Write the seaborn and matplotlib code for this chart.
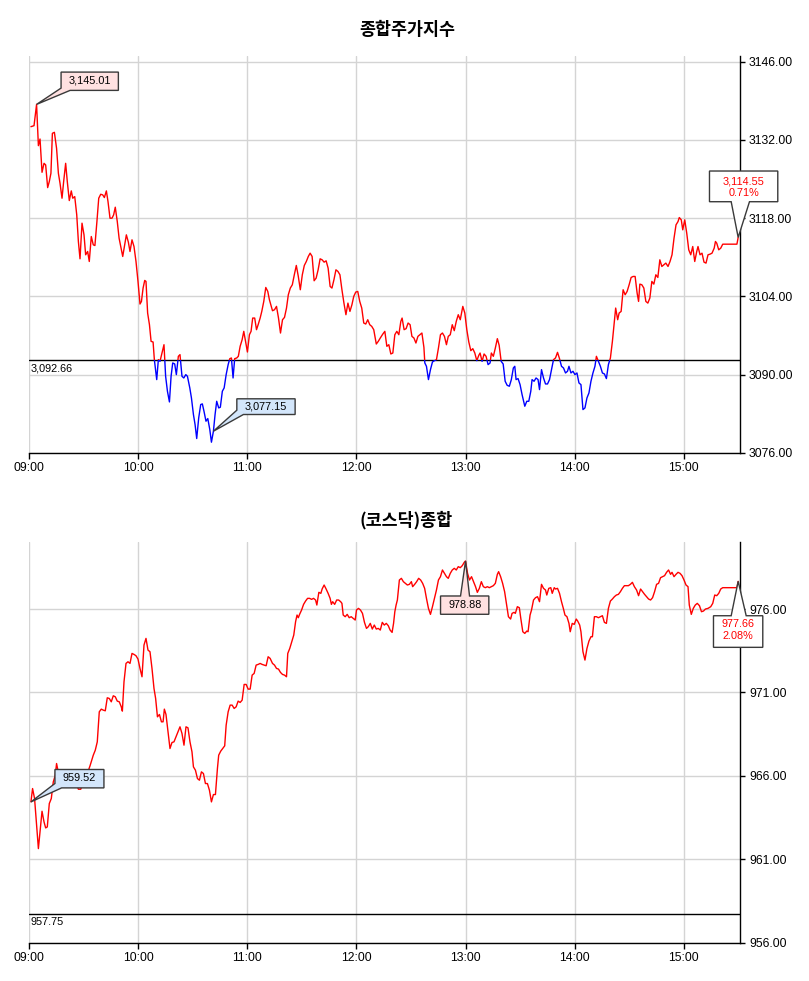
import numpy as np
import matplotlib
matplotlib.use("Agg")
import matplotlib.pyplot as plt
import matplotlib.transforms as mtransforms
from matplotlib.patches import Polygon, Rectangle
import seaborn as sns

# ---------------- data ----------------
KOSPI_TITLE = "종합주가지수"
KOSDAQ_TITLE = "(코스닥)종합"
TIME_LABELS = ["09:00", "10:00", "11:00", "12:00", "13:00", "14:00", "15:00"]
TIME_TICKS = [0, 60, 120, 180, 240, 300, 360]   # minutes after 09:00

kospi_min = [
    0.9, 2.6, 4.0, 5.0, 5.9, 7.0, 8.1, 9.0, 10.1, 11.0,
    11.9, 12.7, 13.8, 15.0, 16.0, 16.9, 18.0, 18.9, 20.0, 20.9,
    22.0, 23.1, 23.9, 25.0, 26.1, 27.0, 27.9, 29.0, 30.1, 31.0,
    32.1, 33.0, 34.1, 35.2, 36.1, 37.2, 38.2, 39.3, 40.4, 41.3,
    42.4, 43.3, 44.4, 45.5, 46.4, 47.3, 48.4, 49.4, 50.5, 51.4,
    52.5, 53.4, 54.5, 55.4, 56.5, 57.6, 58.7, 59.8, 60.9, 61.7,
    62.6, 63.5, 64.2, 65.1, 66.1, 67.0, 68.1, 68.8, 70.1, 71.0,
    71.9, 73.2, 74.1, 75.0, 76.0, 77.1, 78.0, 78.9, 80.0, 80.9,
    82.0, 82.9, 84.0, 85.0, 86.1, 87.0, 88.3, 89.2, 90.3, 91.2,
    92.1, 93.2, 94.3, 95.2, 96.1, 97.2, 98.2, 99.3, 100.2, 101.3,
    102.2, 103.1, 104.2, 105.1, 106.2, 107.2, 108.3, 109.4, 110.3, 111.2,
    112.1, 113.0, 114.1, 115.0, 116.0, 117.1, 118.0, 119.1, 120.0, 121.1,
    122.0, 122.9, 124.0, 125.0, 125.9, 127.0, 127.9, 129.0, 130.1, 131.2,
    132.1, 133.8, 134.9, 136.0, 137.1, 138.2, 139.3, 140.4, 141.5, 142.5,
    143.6, 144.7, 145.8, 146.9, 148.0, 149.1, 150.2, 151.3, 152.4, 153.5,
    154.5, 155.6, 156.7, 157.8, 158.9, 160.0, 161.1, 162.2, 163.3, 164.4,
    165.5, 166.5, 167.6, 168.7, 169.8, 170.9, 172.0, 173.1, 174.2, 175.3,
    176.4, 177.5, 178.5, 179.6, 180.7, 181.8, 182.9, 184.0, 185.1, 186.2,
    187.3, 188.4, 189.5, 190.9, 192.0, 193.1, 194.5, 195.6, 196.7, 197.8,
    198.9, 200.0, 201.1, 202.2, 203.3, 204.4, 205.1, 206.2, 207.3, 208.4,
    209.5, 210.5, 211.6, 212.7, 213.8, 214.9, 216.0, 217.1, 217.6, 218.5,
    219.6, 220.7, 221.8, 222.9, 224.0, 225.1, 226.2, 227.3, 228.4, 229.5,
    230.5, 231.6, 232.7, 233.8, 234.9, 236.0, 237.1, 238.5, 239.6, 240.7,
    241.8, 242.9, 244.0, 245.1, 246.2, 247.3, 248.0, 249.1, 250.2, 251.3,
    252.4, 253.5, 254.2, 255.3, 256.4, 257.5, 258.5, 259.6, 260.7, 261.8,
    262.9, 264.1, 265.2, 266.3, 267.1, 267.8, 268.9, 270.0, 271.1, 272.6,
    273.7, 274.8, 275.9, 276.6, 277.7, 278.8, 279.9, 280.7, 281.8, 282.9,
    284.0, 285.1, 286.2, 287.3, 288.4, 289.5, 290.6, 291.7, 292.8, 293.9,
    295.0, 296.1, 296.9, 298.0, 299.1, 300.2, 301.3, 302.4, 303.5, 304.6,
    305.7, 306.8, 307.9, 309.0, 310.1, 311.2, 312.0, 313.1, 314.2, 315.3,
    316.4, 317.5, 318.6, 319.7, 320.8, 321.9, 322.6, 323.7, 324.5, 325.6,
    326.7, 327.8, 328.9, 330.0, 331.1, 332.2, 333.3, 334.4, 335.2, 335.9,
    337.0, 338.1, 339.2, 340.3, 341.4, 342.5, 343.6, 344.7, 345.8, 346.9,
    348.0, 349.1, 350.2, 351.4, 352.5, 353.6, 354.7, 355.8, 356.9, 357.6,
    358.7, 359.5, 360.6, 361.7, 362.8, 363.9, 365.0, 366.1, 367.2, 367.9,
    369.0, 370.1, 371.2, 372.3, 373.4, 374.5, 375.6, 376.8, 377.5, 378.2,
    379.3, 380.4, 381.5, 389.3, 390.0,
]
kospi_val = [
    3134.38, 3134.56, 3138.37, 3130.98, 3132.17, 3126.21, 3127.82, 3127.53, 3123.47, 3124.55,
    3126.04, 3133.19, 3133.37, 3130.51, 3126.04, 3124.25, 3121.57, 3124.55, 3127.82, 3124.55,
    3121.15, 3122.88, 3121.57, 3121.86, 3118.59, 3113.82, 3110.72, 3117.10, 3115.01, 3111.44,
    3112.03, 3110.24, 3114.71, 3113.22, 3113.10, 3117.39, 3121.57, 3122.28, 3122.16, 3121.69,
    3122.88, 3120.97, 3117.99, 3117.99, 3118.59, 3119.96, 3117.39, 3114.41, 3112.63, 3111.14,
    3113.22, 3115.01, 3113.70, 3112.03, 3114.12, 3112.92, 3110.24, 3106.67, 3102.62, 3103.09,
    3105.48, 3106.85, 3106.67, 3101.01, 3098.92, 3095.94, 3095.82, 3092.66, 3089.09, 3092.66,
    3092.36, 3094.15, 3095.34, 3089.68, 3087.00, 3085.09, 3089.68, 3092.07, 3091.89, 3089.98,
    3093.26, 3093.56, 3089.68, 3089.38, 3089.98, 3089.68, 3087.60, 3085.81, 3082.83, 3081.04,
    3078.54, 3082.23, 3084.62, 3084.74, 3083.43, 3081.64, 3082.11, 3080.15, 3077.88, 3079.85,
    3082.83, 3085.21, 3084.02, 3084.14, 3087.00, 3087.60, 3089.98, 3091.77, 3092.84, 3092.96,
    3089.38, 3092.84, 3092.96, 3093.26, 3095.05, 3096.24, 3097.73, 3095.64, 3094.03, 3097.13,
    3097.73, 3100.11, 3100.11, 3098.03, 3098.92, 3100.11, 3101.30, 3103.09, 3105.59, 3104.88,
    3103.39, 3101.42, 3101.60, 3102.20, 3100.11, 3097.43, 3099.81, 3100.23, 3101.90, 3104.28,
    3105.48, 3106.07, 3107.86, 3109.53, 3107.56, 3105.18, 3107.86, 3109.53, 3110.24, 3111.14,
    3111.73, 3111.14, 3106.79, 3107.26, 3108.75, 3110.72, 3110.54, 3110.12, 3110.36, 3109.05,
    3105.77, 3105.48, 3106.97, 3108.75, 3108.46, 3107.86, 3105.18, 3102.79, 3100.71, 3102.79,
    3101.30, 3102.50, 3103.99, 3104.76, 3104.88, 3103.09, 3101.90, 3099.22, 3099.04, 3099.81,
    3098.92, 3098.62, 3098.03, 3095.46, 3095.94, 3096.54, 3097.25, 3097.73, 3095.05, 3095.34,
    3093.68, 3093.85, 3097.13, 3097.73, 3097.13, 3099.52, 3100.11, 3098.03, 3098.21, 3099.22,
    3098.92, 3096.83, 3096.54, 3095.64, 3096.83, 3097.13, 3097.43, 3094.87, 3092.07, 3091.47,
    3089.09, 3090.87, 3092.25, 3092.48, 3092.66, 3094.75, 3097.13, 3097.43, 3096.83, 3095.34,
    3096.83, 3097.13, 3098.92, 3097.85, 3099.52, 3100.71, 3099.81, 3102.20, 3101.01, 3098.03,
    3095.82, 3094.27, 3094.63, 3093.85, 3092.48, 3093.44, 3093.85, 3092.36, 3093.68, 3093.26,
    3091.77, 3092.07, 3093.85, 3093.26, 3094.75, 3096.42, 3095.23, 3092.36, 3091.89, 3088.79,
    3088.07, 3087.90, 3089.09, 3091.17, 3091.47, 3089.09, 3089.27, 3088.19, 3086.41, 3084.32,
    3085.21, 3085.21, 3087.00, 3089.09, 3088.79, 3089.38, 3089.09, 3087.30, 3090.87, 3089.38,
    3088.31, 3088.31, 3089.09, 3090.87, 3092.66, 3092.96, 3093.97, 3092.84, 3091.47, 3091.17,
    3090.28, 3090.58, 3091.47, 3090.28, 3090.58, 3089.98, 3090.28, 3088.49, 3088.19, 3083.72,
    3084.02, 3085.81, 3086.70, 3088.79, 3090.28, 3091.47, 3093.26, 3092.36, 3091.47, 3090.28,
    3090.10, 3089.27, 3091.77, 3092.96, 3095.94, 3099.52, 3101.90, 3099.81, 3101.01, 3101.30,
    3105.18, 3104.28, 3104.88, 3106.07, 3107.38, 3107.56, 3107.56, 3104.58, 3103.09, 3106.19,
    3106.07, 3105.48, 3103.09, 3102.79, 3103.69, 3106.67, 3106.19, 3107.86, 3107.38, 3110.54,
    3109.35, 3109.65, 3109.95, 3109.35, 3110.24, 3111.44, 3114.41, 3116.80, 3117.39, 3118.11,
    3117.69, 3115.91, 3117.69, 3115.31, 3112.33, 3111.44, 3112.92, 3110.24, 3112.03, 3112.92,
    3111.44, 3111.73, 3110.12, 3109.95, 3111.44, 3111.55, 3111.73, 3112.63, 3113.82, 3113.52,
    3112.33, 3112.63, 3113.34, 3113.34, 3114.55,
]
kospi_prev = 3092.66
kospi_yticks = [3076, 3090, 3104, 3118, 3132, 3146]
kospi_ylim = (3076, 3147.0)
kospi_high_text = "3,145.01"
kospi_low_text = "3,077.15"
kospi_low_minute = 101.3
kospi_close_text = "3,114.55"
kospi_change_text = "0.71%"
kospi_prev_text = "3,092.66"

kosdaq_min = [
    0.9, 1.8, 2.9, 4.0, 5.0, 5.9, 7.0, 8.1, 9.0, 9.9,
    11.0, 12.1, 13.2, 14.3, 15.0, 16.1, 17.8, 20.6, 23.3, 26.1,
    27.0, 28.3, 29.7, 31.6, 33.4, 35.2, 36.3, 37.4, 38.5, 39.6,
    40.7, 41.8, 42.9, 44.0, 45.1, 46.2, 47.3, 48.4, 49.5, 50.6,
    51.2, 52.1, 53.2, 54.3, 55.4, 56.5, 57.6, 58.7, 59.8, 60.9,
    62.0, 63.1, 64.2, 65.3, 66.4, 67.5, 68.6, 69.5, 70.5, 71.6,
    72.7, 73.6, 74.3, 75.2, 76.3, 77.4, 78.5, 79.6, 80.7, 81.8,
    82.9, 84.0, 85.1, 86.2, 87.3, 88.4, 89.5, 90.3, 91.4, 92.5,
    93.6, 94.7, 95.8, 96.9, 98.0, 99.1, 100.2, 101.3, 102.4, 103.5,
    104.2, 105.3, 106.4, 107.5, 108.3, 109.4, 110.5, 111.6, 112.7, 113.8,
    114.9, 116.0, 117.1, 118.2, 119.3, 120.4, 121.5, 122.6, 123.7, 124.8,
    125.9, 127.0, 128.1, 129.2, 130.3, 131.4, 132.5, 133.8, 134.9, 136.0,
    137.1, 138.2, 139.3, 140.4, 141.5, 142.2, 143.3, 144.4, 145.5, 146.5,
    147.3, 148.0, 148.7, 149.8, 150.9, 152.0, 153.1, 154.2, 155.3, 156.4,
    157.5, 158.2, 159.3, 160.4, 161.1, 162.2, 163.3, 164.4, 165.5, 166.2,
    166.9, 168.0, 169.1, 170.2, 171.3, 172.0, 172.7, 173.8, 174.9, 176.0,
    177.1, 178.2, 179.3, 180.0, 181.1, 182.2, 183.3, 184.4, 185.5, 186.5,
    187.6, 188.7, 189.8, 190.9, 192.0, 193.1, 194.2, 195.3, 196.4, 197.5,
    198.5, 199.6, 200.4, 201.1, 201.8, 202.5, 203.6, 204.7, 205.8, 206.9,
    208.0, 209.1, 210.2, 210.9, 212.0, 213.1, 214.2, 215.3, 216.4, 217.5,
    218.5, 219.6, 220.7, 221.8, 222.9, 224.0, 225.1, 226.2, 227.3, 228.4,
    229.5, 230.5, 231.6, 232.7, 233.8, 234.9, 236.0, 237.1, 238.2, 239.3,
    240.0, 241.1, 242.2, 243.3, 244.4, 245.5, 246.5, 247.6, 248.7, 249.8,
    250.9, 252.0, 253.1, 254.2, 255.3, 256.4, 257.5, 258.2, 259.3, 260.4,
    261.5, 262.5, 263.6, 264.8, 265.6, 266.7, 267.4, 268.5, 269.6, 270.4,
    271.5, 272.6, 273.7, 274.4, 275.5, 276.3, 277.4, 278.5, 279.6, 280.7,
    281.8, 282.9, 284.0, 284.7, 285.8, 286.9, 287.7, 288.8, 289.5, 290.6,
    291.7, 292.8, 293.9, 294.7, 295.8, 296.9, 297.6, 298.7, 299.8, 300.9,
    301.7, 302.8, 303.5, 304.6, 305.7, 306.8, 307.9, 309.0, 309.8, 310.9,
    312.0, 313.1, 314.2, 315.3, 316.4, 317.5, 318.6, 319.7, 320.8, 321.9,
    323.0, 324.1, 325.2, 326.3, 327.4, 328.5, 329.6, 330.7, 331.8, 332.9,
    334.1, 335.2, 336.3, 337.4, 338.5, 339.6, 340.7, 341.8, 342.9, 344.0,
    345.1, 346.2, 347.3, 348.4, 349.5, 350.6, 351.7, 352.8, 353.6, 354.7,
    355.8, 356.9, 358.0, 359.1, 360.2, 361.3, 362.4, 363.1, 364.2, 365.3,
    366.4, 367.5, 368.7, 369.8, 370.9, 372.0, 373.4, 374.9, 376.0, 377.1,
    378.2, 379.3, 380.4, 381.5, 389.3, 390.0,
]
kosdaq_val = [
    964.44, 965.24, 964.64, 963.04, 961.64, 962.64, 963.88, 963.24, 962.88, 962.94,
    964.34, 964.64, 965.64, 966.04, 966.74, 966.14, 965.94, 965.74, 965.54, 965.48,
    965.20, 965.20, 965.64, 966.04, 966.60, 967.24, 967.54, 968.04, 969.84, 970.00,
    969.94, 969.90, 970.68, 970.64, 970.44, 970.80, 970.74, 970.48, 970.44, 970.14,
    969.88, 971.64, 972.74, 972.84, 972.74, 973.34, 973.28, 973.20, 973.00, 972.44,
    971.94, 973.84, 974.24, 973.54, 973.44, 972.44, 971.24, 970.64, 969.54, 969.68,
    969.24, 969.24, 970.00, 969.68, 968.68, 967.64, 968.00, 968.04, 968.34, 968.64,
    968.94, 968.54, 967.84, 968.94, 968.88, 968.04, 967.44, 966.54, 966.34, 965.84,
    965.74, 966.24, 966.14, 965.54, 965.54, 965.14, 964.44, 964.88, 964.88, 966.44,
    967.24, 967.48, 967.64, 967.80, 969.04, 969.84, 970.24, 970.24, 970.04, 970.14,
    970.48, 970.40, 970.54, 971.48, 971.48, 971.20, 971.20, 972.04, 972.14, 972.64,
    972.68, 972.74, 972.68, 972.64, 972.60, 973.14, 973.04, 972.74, 972.64, 972.44,
    972.40, 972.20, 972.08, 972.04, 971.94, 973.34, 973.64, 974.04, 974.44, 975.24,
    975.64, 975.48, 975.68, 975.94, 976.28, 976.48, 976.64, 976.64, 976.58, 976.64,
    976.54, 976.24, 977.00, 976.94, 977.20, 977.44, 977.20, 976.94, 976.64, 976.28,
    976.44, 976.28, 976.54, 976.54, 976.44, 976.34, 975.64, 975.54, 975.68, 975.48,
    975.54, 975.44, 975.34, 975.94, 976.04, 975.94, 975.74, 975.20, 974.84, 974.94,
    975.14, 974.80, 975.04, 974.80, 974.84, 974.74, 975.20, 975.04, 975.14, 975.00,
    974.74, 974.60, 975.14, 975.84, 976.24, 976.54, 977.74, 977.84, 977.64, 977.54,
    977.44, 977.48, 977.64, 977.34, 977.48, 977.64, 977.84, 977.74, 977.54, 977.24,
    976.64, 976.04, 975.68, 976.14, 976.64, 977.14, 977.74, 977.94, 978.34, 978.14,
    977.94, 977.84, 978.14, 978.34, 978.44, 978.34, 978.54, 978.48, 978.60, 978.80,
    978.88, 978.14, 977.74, 977.94, 977.64, 977.34, 977.00, 977.24, 977.64, 977.34,
    977.28, 977.34, 977.28, 977.34, 977.40, 977.54, 978.08, 978.24, 977.94, 977.54,
    977.04, 976.34, 975.54, 975.40, 975.74, 975.80, 975.74, 976.14, 976.08, 975.44,
    974.64, 974.54, 974.68, 974.64, 975.64, 975.94, 976.54, 976.68, 976.74, 976.44,
    977.48, 977.24, 977.14, 976.84, 977.24, 977.28, 976.94, 977.28, 977.20, 977.24,
    976.94, 976.44, 976.00, 975.64, 975.54, 975.14, 974.64, 975.14, 975.08, 975.40,
    975.28, 975.04, 974.64, 973.44, 972.94, 973.64, 974.08, 974.34, 974.34, 975.54,
    975.54, 975.48, 975.54, 975.60, 975.20, 975.14, 976.04, 976.48, 976.60, 976.74,
    976.84, 976.88, 977.04, 977.24, 977.40, 977.40, 977.40, 977.48, 977.60, 977.34,
    977.14, 976.80, 977.20, 977.04, 976.88, 976.74, 976.60, 976.54, 976.68, 977.04,
    977.48, 977.54, 977.88, 977.94, 978.00, 978.20, 978.34, 978.08, 978.20, 977.94,
    978.08, 978.20, 978.14, 978.00, 977.74, 977.44, 977.34, 976.24, 975.68, 976.04,
    976.24, 976.34, 976.20, 975.84, 975.88, 976.00, 976.04, 976.14, 976.34, 976.84,
    976.80, 976.94, 977.20, 977.28, 977.28, 977.66,
]
kosdaq_prev = 957.75
kosdaq_yticks = [956, 961, 966, 971, 976]
kosdaq_ylim = (956, 980)
kosdaq_high_text = "978.88"
kosdaq_low_text = "959.52"
kosdaq_close_text = "977.66"
kosdaq_change_text = "2.08%"
kosdaq_prev_text = "957.75"

# ---------------- style ----------------
sns.set_style("white")
plt.rcParams['font.family'] = ['Liberation Sans', 'DejaVu Sans']
KR = ['Noto Sans CJK KR', 'DejaVu Sans']
UP = "#ff0000"
DOWN = "#0000ff"
PINK = "#ffe1e1"
BLUE = "#d3e6fb"
EDGE = "#3a3a3a"
XMAX = 391.0

W, H = 809, 981
fig = plt.figure(figsize=(W / 100, H / 100), dpi=100)


def axes_px(left, top, right, bottom):
    return fig.add_axes([left / W, 1 - bottom / H, (right - left) / W, (bottom - top) / H])


ax1 = axes_px(29.3, 56.2, 740, 452.7)
ax2 = axes_px(29.3, 542.3, 740, 942.7)


def style_axes(ax, yticks, ylim):
    ax.set_xlim(0, XMAX)
    ax.set_ylim(*ylim)
    ax.set_xticks(TIME_TICKS)
    ax.set_xticklabels(TIME_LABELS)
    ax.yaxis.tick_right()
    ax.set_yticks(yticks)
    ax.set_yticklabels([f"{v:.2f}" for v in yticks])
    ax.grid(True, color="#d4d4d4", lw=1.0)
    ax.set_axisbelow(True)
    for s in ("left", "top"):
        ax.spines[s].set_visible(False)
    for s in ("bottom", "right"):
        ax.spines[s].set_visible(True)
        ax.spines[s].set_color("black")
        ax.spines[s].set_linewidth(1.0)
    ax.tick_params(axis="x", direction="out", length=4.5, width=1, pad=2,
                   labelsize=8.8, colors="black", bottom=True)
    ax.tick_params(axis="y", direction="out", length=3.5, width=1, pad=3,
                   labelsize=8.8, colors="black", right=True, left=False)
    ax.set_xlabel("")
    ax.set_ylabel("")


def callout(ax, x, y, verts_px, texts, face):
    tr = fig.dpi_scale_trans + mtransforms.ScaledTranslation(x, y, ax.transData)
    verts = np.array(verts_px, dtype=float) / fig.dpi
    poly = Polygon(verts, closed=True, transform=tr, facecolor=face,
                   edgecolor=EDGE, lw=1.0, clip_on=False, zorder=6)
    ax.add_artist(poly)
    for dx, dy, s, col in texts:
        ax.annotate(s, xy=(x, y), xytext=(dx * 0.72, dy * 0.72),
                    textcoords="offset points", ha="center", va="center",
                    fontsize=7.8, color=col, zorder=7, annotation_clip=False)


def prev_line(ax, level, text):
    ax.axhline(level, color="black", lw=1.0, zorder=3)
    ax.annotate(text, xy=(0, level), xytext=(0.8, -2.5), textcoords="offset points",
                ha="left", va="top", fontsize=7.8, color="black", zorder=4)


# ---------------- top: KOSPI ----------------
style_axes(ax1, kospi_yticks, kospi_ylim)
prev_line(ax1, kospi_prev, kospi_prev_text)
sns.lineplot(x=kospi_min, y=kospi_val, color=UP, lw=1.0, estimator=None, sort=False, ax=ax1, zorder=4)
red_line = ax1.lines[-1]
sns.lineplot(x=kospi_min, y=kospi_val, color=DOWN, lw=1.0, estimator=None, sort=False, ax=ax1, zorder=4)
blue_line = ax1.lines[-1]
clip_up = Rectangle((-10, kospi_prev), 500, 1000, transform=ax1.transData)
clip_dn = Rectangle((-10, kospi_prev - 1000), 500, 1000, transform=ax1.transData)
red_line.set_clip_path(clip_up)
blue_line.set_clip_path(clip_dn)
style_axes(ax1, kospi_yticks, kospi_ylim)

kt = np.array(kospi_min)
kv = np.array(kospi_val)
ih = int(np.argmax(kv))
il = int(np.argmin(np.abs(kt - kospi_low_minute)))
callout(ax1, kt[ih], kv[ih],
        [(0, 0), (24.5, 16.3), (24.5, 32.3), (81.8, 32.3), (81.8, 14), (33.5, 14)],
        [(53.2, 23.4, kospi_high_text, "black")], PINK)
callout(ax1, kt[il], kv[il],
        [(0, 0), (23.4, 21), (23.4, 32.4), (81.7, 32.4), (81.7, 16.7), (30, 16.7)],
        [(52.5, 24.6, kospi_low_text, "black")], BLUE)
callout(ax1, kt[-1], kv[-1],
        [(0, 0), (11.3, 35.7), (39.6, 35.7), (39.6, 66.4), (-28.7, 66.4), (-28.7, 35.7), (-7, 35.7)],
        [(5.5, 56.0, kospi_close_text, UP), (5.5, 44.8, kospi_change_text, UP)], "white")

# ---------------- bottom: KOSDAQ ----------------
style_axes(ax2, kosdaq_yticks, kosdaq_ylim)
prev_line(ax2, kosdaq_prev, kosdaq_prev_text)
sns.lineplot(x=kosdaq_min, y=kosdaq_val, color=UP, lw=1.0, estimator=None, sort=False, ax=ax2, zorder=4)
style_axes(ax2, kosdaq_yticks, kosdaq_ylim)

qt = np.array(kosdaq_min)
qv = np.array(kosdaq_val)
jh = int(np.argmax(qv))
callout(ax2, qt[jh], qv[jh],
        [(0, 0), (4, -35), (23.3, -35), (23.3, -53.3), (-25, -53.3), (-25, -35), (-5, -35)],
        [(-0.8, -44.0, kosdaq_high_text, "black")], PINK)
callout(ax2, qt[0], qv[0],
        [(0, 0), (24, 18.4), (24, 32.4), (73, 32.4), (73, 14), (30.7, 14)],
        [(48.5, 23.4, kosdaq_low_text, "black")], BLUE)
callout(ax2, qt[-1], qv[-1],
        [(0, 0), (8, -34.4), (24.6, -34.4), (24.6, -66), (-24.7, -66), (-24.7, -34.4), (-7, -34.4)],
        [(0, -42.9, kosdaq_close_text, UP), (0, -55.0, kosdaq_change_text, UP)], "white")

# ---------------- titles ----------------
fig.text(407.5 / W, 1 - 29.7 / H, KOSPI_TITLE, ha="center", va="center",
         fontsize=12.5, fontweight="bold", family=KR, color="black")
fig.text(406 / W, 1 - 520 / H, KOSDAQ_TITLE, ha="center", va="center",
         fontsize=12.5, fontweight="bold", family=KR, color="black")

fig.savefig("out.png", dpi=100)
